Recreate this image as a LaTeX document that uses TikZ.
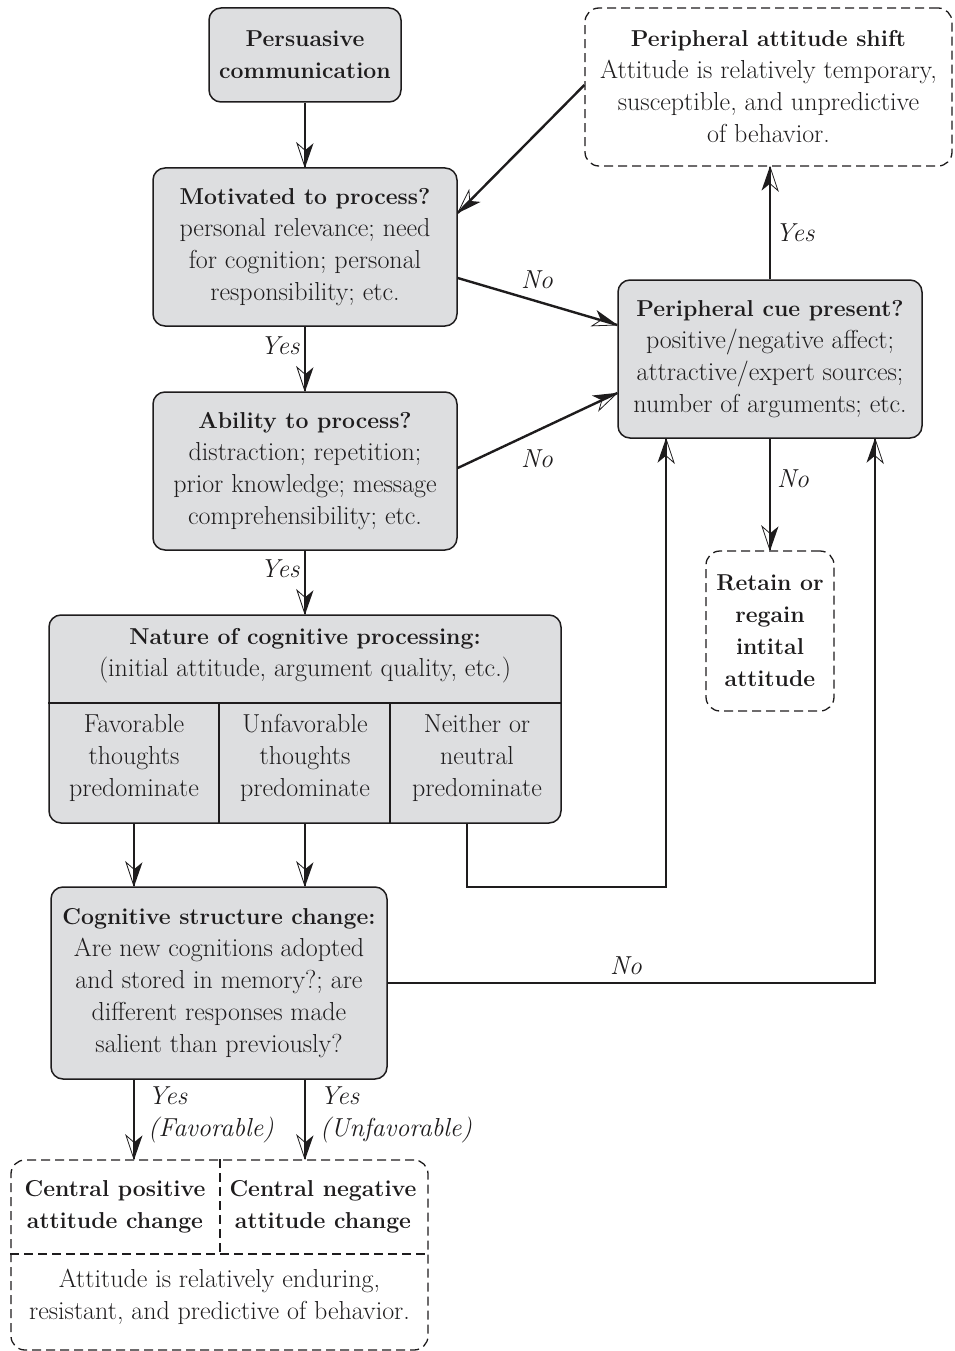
\documentclass[tikz,border=0pt]{standalone}
\usetikzlibrary{decorations.markings}
\definecolor{boxgray}{RGB}{221,222,224}
\definecolor{ink}{RGB}{30,28,29}
% bold headings are set a little smaller than the body text
\newcommand\hd[1]{{\fontsize{23}{32}\selectfont\bfseries #1}}
\begin{document}
\begin{tikzpicture}[x=1pt,y=-1pt,
  every node/.style={font=\fontsize{26}{32}\selectfont, text=ink, align=center, inner sep=0pt},
  proc/.style={draw=ink, line width=1.5pt, fill=boxgray, rounded corners=12pt},
  outcome/.style={draw=ink, line width=1.3pt, dash pattern=on 9pt off 5pt, rounded corners=14pt},
  cell/.style={},
  divider/.style={draw=ink, line width=1.3pt},
  % connector with a half-filled barbed head at its end
  conn/.style={draw=ink, line width=2.4pt,
    postaction={decorate, decoration={markings, mark=at position 1 with {
      \draw[ink, line width=0.8pt, line join=miter] (0pt,0pt) -- (-24pt,-8pt) -- (-17pt,0pt);
      \fill[ink] (0.5pt,0pt) -- (-24pt,8.5pt) -- (-17pt,0pt) -- cycle;}}}},
  lab/.style={font=\fontsize{26}{32}\selectfont\itshape}]
\useasboundingbox (0,0) rectangle (954,1351);

% processing boxes
\node[proc, minimum width=192pt, minimum height=94pt] (pers) at (305,55)
  {\hd{Persuasive}\\\hd{communication}};
\node[proc, minimum width=304pt, minimum height=158pt] (mot) at (305,247)
  {\hd{Motivated to process?}\\personal relevance; need\\for cognition; personal\\responsibility; etc.};
\node[proc, minimum width=304pt, minimum height=158pt] (abil) at (305,471)
  {\hd{Ability to process?}\\distraction; repetition;\\prior knowledge; message\\comprehensibility; etc.};
\node[proc, minimum width=304pt, minimum height=158pt] (cue) at (770,359)
  {\hd{Peripheral cue present?}\\positive/negative affect;\\attractive/expert sources;\\number of arguments; etc.};

% nature of processing, split into a header and three columns
\node[proc, minimum width=512pt, minimum height=208pt] (nature) at (305,719) {};
\draw[divider] (nature.west |- 0,703) -- (nature.east |- 0,703);
\draw[divider] (219,703) -- (219,0 |- nature.south);
\draw[divider] (390,703) -- (390,0 |- nature.south);
\node[cell] (nathead) at (305,656)
  {\hd{Nature of cognitive processing:}\\(initial attitude, argument quality, etc.)};
\node[cell] (natfav) at (134,758) {Favorable\\thoughts\\predominate};
\node[cell] (natunf) at (305,758) {Unfavorable\\thoughts\\predominate};
\node[cell] (natnei) at (477,758) {Neither or\\neutral\\predominate};

\node[proc, minimum width=336pt, minimum height=192pt] (cog) at (219,983)
  {\hd{Cognitive structure change:}\\Are new cognitions adopted\\and stored in memory?; are\\different responses made\\salient than previously?};

% outcome boxes
\node[outcome, minimum width=367pt, minimum height=158pt] (shift) at (768.5,87)
  {\hd{Peripheral attitude shift}\\Attitude is relatively temporary,\\susceptible, and unpredictive\\of behavior.};
\node[outcome, minimum width=128pt, minimum height=160pt] (retain) at (770,631)
  {\hd{Retain or}\\\hd{regain}\\\hd{intital}\\\hd{attitude}};
\node[outcome, minimum width=417pt, minimum height=190pt] (central) at (219.5,1255) {};
\draw[outcome, rounded corners=0pt] (central.west |- 0,1254) -- (central.east |- 0,1254);
\draw[outcome, rounded corners=0pt] (220,0 |- central.north) -- (220,1254);
\node[cell] (centpos) at (115,1207) {\hd{Central positive}\\\hd{attitude change}};
\node[cell] (centneg) at (323,1207) {\hd{Central negative}\\\hd{attitude change}};
\node[cell] (centnote) at (219.5,1297)
  {Attitude is relatively enduring,\\resistant, and predictive of behavior.};

% connectors
\draw[conn] (pers) -- (mot);
\draw[conn] (mot) -- (abil);
\draw[conn] (abil) -- (nature.north -| abil);
\draw[conn] ([yshift=-31pt]mot.east) -- ([yshift=34pt]cue.west);
\draw[conn] ([yshift=3pt]abil.east) -- ([yshift=-34pt]cue.west);
\draw[conn] ([yshift=2pt]shift.west) -- ([yshift=34pt]mot.east);
\draw[conn] (cue.north) -- (cue.north |- shift.south);
\draw[conn] (cue.south) -- (retain.north);
\draw[conn] ([xshift=-10pt]natnei.south |- nature.south) -- ++(0,63)
  -| ([xshift=-104pt]cue.south);
\draw[conn] (cog.east) -| ([xshift=105pt]cue.south);
\draw[conn] (natfav.south |- nature.south) -- (natfav.south |- cog.north);
\draw[conn] (natunf.south |- nature.south) -- (natunf.south |- cog.north);
\draw[conn] (natfav |- cog.south) -- (natfav |- central.north);
\draw[conn] (natunf |- cog.south) -- (natunf |- central.north);

% connector labels
\node[lab] (ly1) at (280,346) {Yes};
\node[lab] (ly2) at (280,569) {Yes};
\node[lab] (ln1) at (537,280) {No};
\node[lab] (ln2) at (537,459) {No};
\node[lab] (ly3) at (795,233) {Yes};
\node[lab] (ln3) at (793,479) {No};
\node[lab] (ln4) at (626,966) {No};
\node[lab, anchor=west, align=left] (lfav) at (148,1115) {Yes\\(Favorable)};
\node[lab, anchor=west, align=left] (lunf) at (320,1115) {Yes\\(Unfavorable)};
\end{tikzpicture}
\end{document}
